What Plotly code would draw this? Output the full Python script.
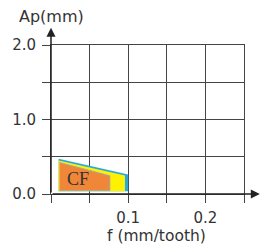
import plotly.graph_objects as go

# ---- data ----
x_ticks = [0, 0.05, 0.1, 0.15, 0.2, 0.25]
x_labels = ["", "", "0.1", "", "0.2", ""]
y_ticks = [0, 0.5, 1.0, 1.5, 2.0]
y_labels = ["0.0", "", "1.0", "", "2.0"]

blue_f = [0.0099, 0.100, 0.100, 0.0099]
blue_ap = [0.472, 0.262, 0.038, 0.038]
yellow_f = [0.0099, 0.0958, 0.0958, 0.0099]
yellow_ap = [0.450, 0.248, 0.038, 0.038]
orange_f = [0.011, 0.0763, 0.0763, 0.011]
orange_ap = [0.423, 0.245, 0.045, 0.045]
region_label = "CF"
region_label_pos = (0.0355, 0.205)

x_title = "f (mm/tooth)"
y_title = "Ap(mm)"

line_col = "#444444"
txt_col = "#333333"
font_sans = "DejaVu Sans"

# plot area in pixels (for placing titles)
PL, PR, PT, PB = 49, 243.5, 45, 194.3

fig = go.Figure()
fig.add_trace(go.Scatter(x=blue_f, y=blue_ap, fill="toself", mode="none",
                         fillcolor="#2aa9e0", hoverinfo="skip"))
fig.add_trace(go.Scatter(x=yellow_f, y=yellow_ap, fill="toself", mode="none",
                         fillcolor="#fff200", hoverinfo="skip"))
fig.add_trace(go.Scatter(x=orange_f, y=orange_ap, fill="toself", mode="lines",
                         line=dict(color="#a8a8a8", width=1),
                         fillcolor="#ef8638", hoverinfo="skip"))

fig.add_annotation(x=region_label_pos[0], y=region_label_pos[1], text=region_label,
                   showarrow=False, xref="x", yref="y", xanchor="center", yanchor="middle",
                   font=dict(family="Liberation Serif", size=18, color=txt_col))

# axis arrows
fig.add_annotation(x=0, y=2.23, ax=0, ay=0, xref="x", yref="y", axref="x", ayref="y",
                   showarrow=True, arrowhead=2, arrowsize=1.2, arrowwidth=1.5,
                   arrowcolor="#222222", text="")
fig.add_annotation(x=0.2705, y=0, ax=0, ay=0, xref="x", yref="y", axref="x", ayref="y",
                   showarrow=True, arrowhead=2, arrowsize=1.2, arrowwidth=1.5,
                   arrowcolor="#222222", text="")

# axis titles
fig.add_annotation(xref="x domain", yref="y domain",
                   x=(50 - PL) / (PR - PL), y=(PB - 16) / (PB - PT),
                   xanchor="center", yanchor="middle", text=y_title, showarrow=False,
                   font=dict(family=font_sans, size=16, color=txt_col))
fig.add_annotation(xref="x domain", yref="y domain",
                   x=(155 - PL) / (PR - PL), y=(PB - 236) / (PB - PT),
                   xanchor="center", yanchor="middle", text=x_title, showarrow=False,
                   font=dict(family=font_sans, size=15.5, color=txt_col))

fig.update_xaxes(range=[0, 0.25], tickvals=x_ticks, ticktext=x_labels,
                 showgrid=True, gridcolor=line_col, gridwidth=1,
                 showline=True, mirror=True, linecolor=line_col, linewidth=1,
                 ticks="outside", ticklen=8, tickcolor=line_col, tickwidth=1,
                 zeroline=False, ticklabelstandoff=2,
                 tickfont=dict(family=font_sans, size=15, color=txt_col))
fig.update_yaxes(range=[0, 2.0], tickvals=y_ticks, ticktext=y_labels,
                 showgrid=True, gridcolor=line_col, gridwidth=1,
                 showline=True, mirror=True, linecolor=line_col, linewidth=1,
                 ticks="outside", ticklen=8, tickcolor=line_col, tickwidth=1,
                 zeroline=False, ticklabelstandoff=3,
                 tickfont=dict(family=font_sans, size=15, color=txt_col))

fig.update_layout(width=261, height=248, showlegend=False,
                  margin=dict(l=49, r=17, t=45, b=54, pad=0),
                  plot_bgcolor="white", paper_bgcolor="white")

fig.write_html("out.html", config={"displayModeBar": False, "staticPlot": True},
               post_script="document.body.style.margin='0';document.body.style.padding='0';")
